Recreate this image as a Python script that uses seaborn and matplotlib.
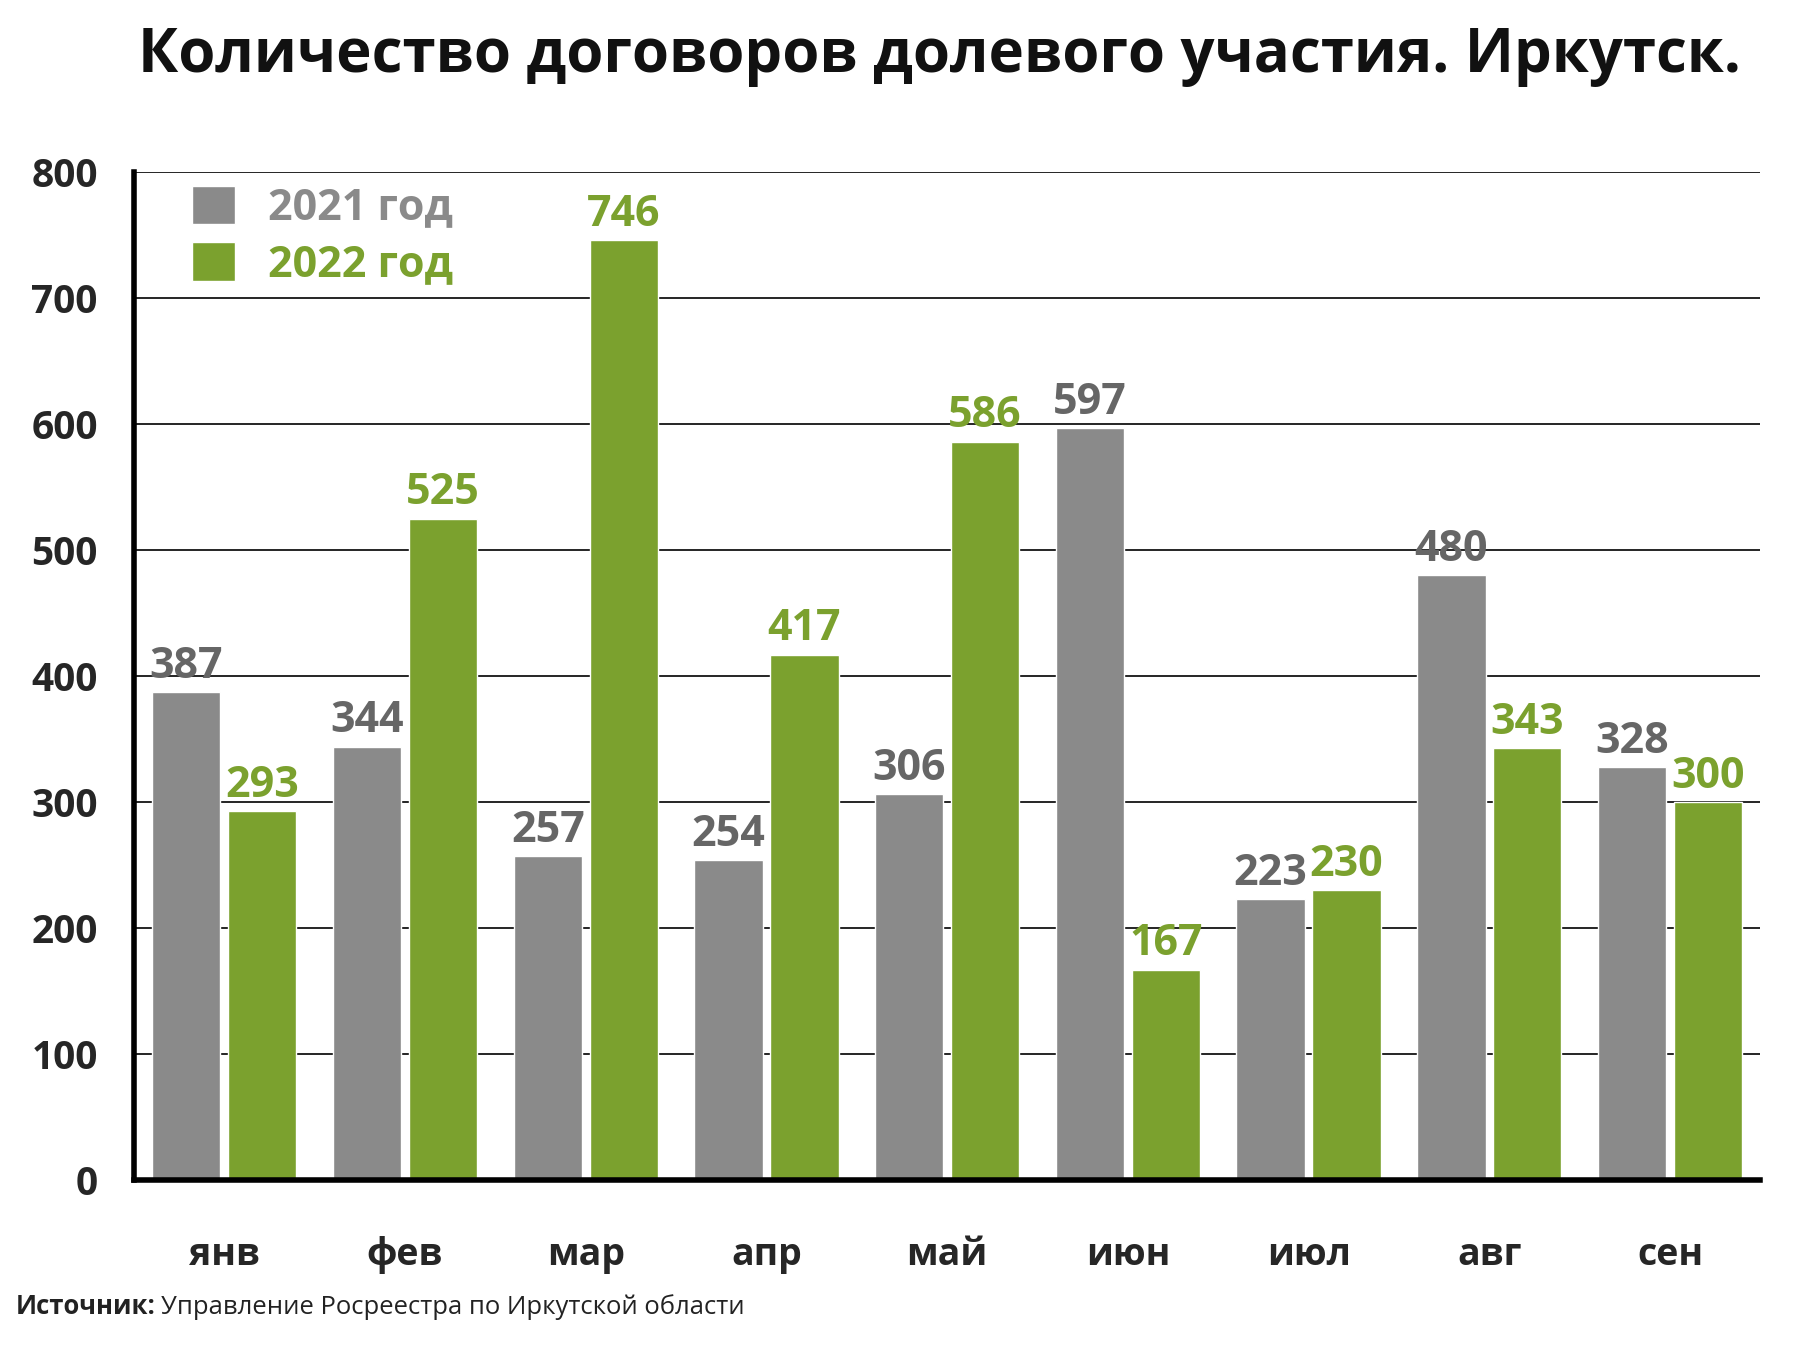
import matplotlib
matplotlib.use('Agg')
import matplotlib.pyplot as plt
import seaborn as sns
import pandas as pd
from matplotlib.patches import Patch
from matplotlib.ticker import MultipleLocator

months = ['янв', 'фев', 'мар', 'апр', 'май', 'июн', 'июл', 'авг', 'сен']
years = ['2021 год', '2022 год']
values_2021 = [387, 344, 257, 254, 306, 597, 223, 480, 328]
values_2022 = [293, 525, 746, 417, 586, 167, 230, 343, 300]

gray = '#8a8a8a'
gray_text = '#666666'
green = '#7ba12e'

df = pd.DataFrame({
    'month': months * 2,
    'year': [years[0]] * len(months) + [years[1]] * len(months),
    'count': values_2021 + values_2022,
})

sns.set_style('white')
plt.rcParams['font.family'] = ['Open Sans', 'DejaVu Sans']

fig = plt.figure(figsize=(18, 13.46), dpi=100)
ax = fig.add_axes([0.0744, 0.1233, 0.9036, 0.7489])

sns.barplot(data=df, x='month', y='count', hue='year', palette=[gray, green],
            width=0.84, gap=0.1, saturation=1, ax=ax, legend=False, zorder=3)

ax.set_xlim(-0.5, len(months) - 0.5)
ax.set_ylim(0, 800)
ax.yaxis.set_major_locator(MultipleLocator(100))
ax.grid(axis='y', color='black', linewidth=1.2, zorder=0)
ax.set_axisbelow(True)
ax.set_xlabel('')
ax.set_ylabel('')

for side in ['top', 'right']:
    ax.spines[side].set_visible(False)
for side in ['left', 'bottom']:
    ax.spines[side].set_linewidth(4)
    ax.spines[side].set_color('black')
    ax.spines[side].set_zorder(5)

ax.tick_params(axis='y', length=14, width=4, color='black', pad=12, labelsize=28)
for lab in ax.get_yticklabels():
    lab.set_fontweight('bold')
ax.set_xticks(range(len(months)))
ax.set_xticklabels(months, fontsize=27, fontweight='bold')
ax.tick_params(axis='x', which='major', length=0, pad=40)
ax.set_xticks([i - 0.5 for i in range(len(months) + 1)], minor=True)
ax.tick_params(axis='x', which='minor', length=12, width=3.5, color='black', direction='out')

for cont, col in zip(ax.containers, [gray_text, green]):
    ax.bar_label(cont, padding=3, color=col, fontsize=31, fontweight='bold')

handles = [Patch(facecolor=gray), Patch(facecolor=green)]
leg = ax.legend(handles, years, loc='upper left', bbox_to_anchor=(0.012, 1.025), frameon=False,
                prop={'size': 31, 'weight': 'bold'}, handlelength=1.0, handleheight=1.0,
                handletextpad=0.75, labelspacing=0.3)
for t, col in zip(leg.get_texts(), [gray, green]):
    t.set_color(col)

title = fig.text(0.522, 0.958, 'Количество договоров долевого участия. Иркутск.', ha='center',
                 va='center', fontsize=44, fontweight='bold', color='#111111')
src = fig.text(0.009, 0.029, 'Источник:', ha='left', va='center', fontsize=19,
               fontweight='bold', color='#222222')
src2 = fig.text(0.1, 0.029, 'Управление Росреестра по Иркутской области',
                ha='left', va='center', fontsize=19, color='#222222')

# fit title and source line to the widths in the reference
fig.canvas.draw()
w = title.get_window_extent().width
title.set_fontsize(44 * 1604 / w)
w_src = src.get_window_extent().width + src2.get_window_extent().width + 5
k = 727 / w_src
src.set_fontsize(19 * k)
src2.set_fontsize(19 * k)
fig.canvas.draw()
src2.set_x((src.get_window_extent().x1 + 5) / fig.bbox.width)

fig.savefig('out.png', dpi=100)
